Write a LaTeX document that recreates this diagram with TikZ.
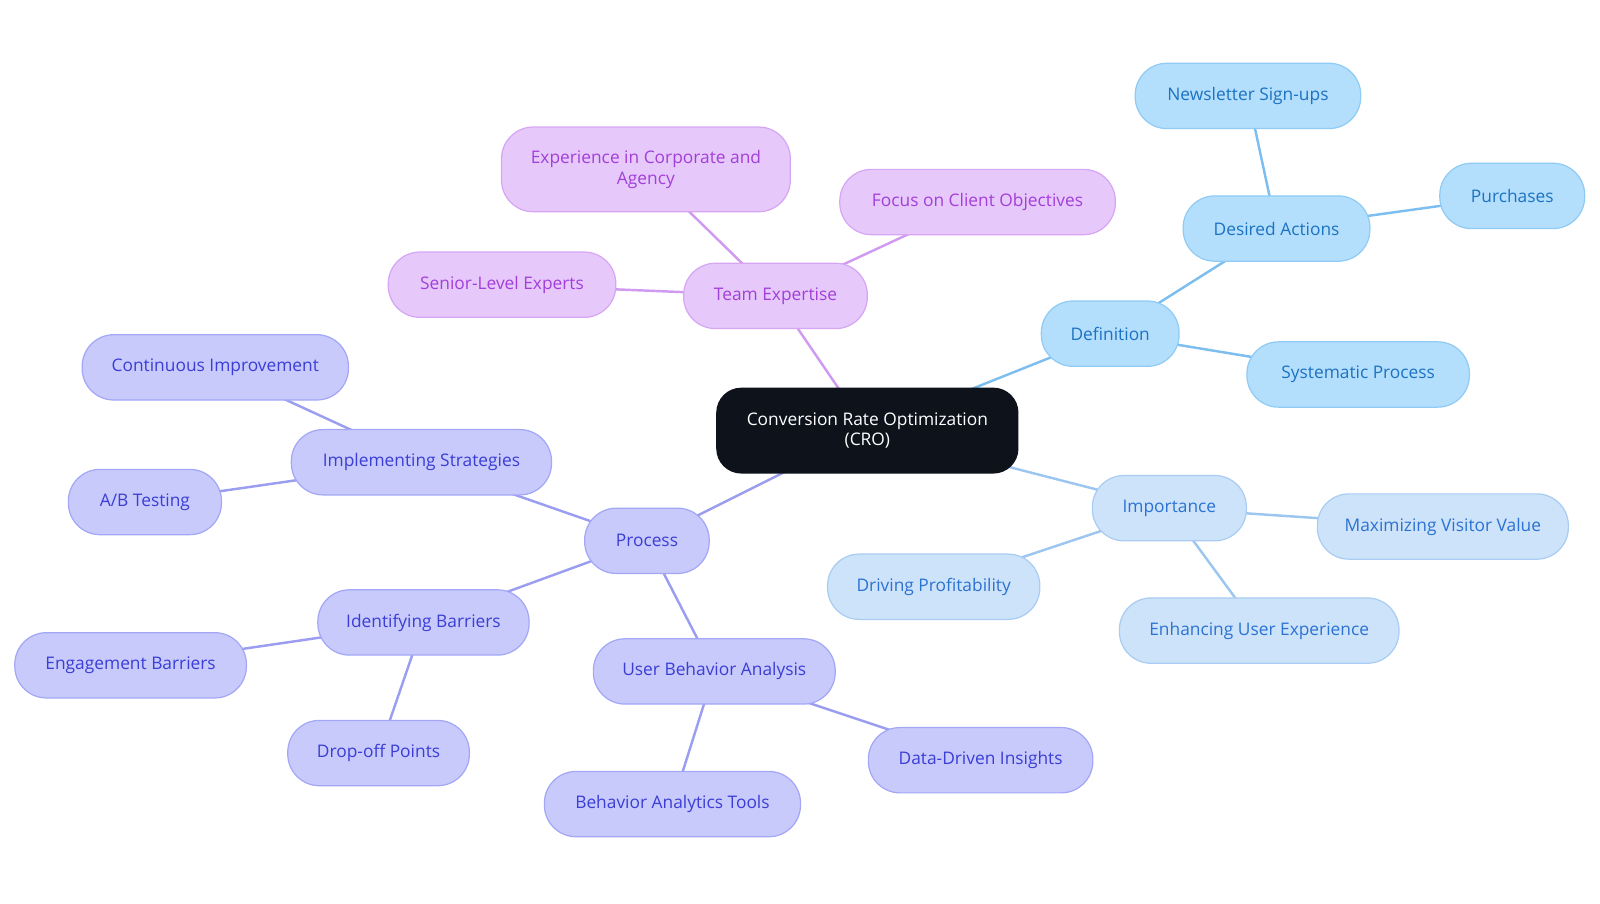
\documentclass[tikz,border=0pt]{standalone}
\usepackage{fontspec}
\setmainfont{Open Sans}
\pgfdeclarelayer{bg}
\pgfsetlayers{bg,main}
\definecolor{cfill}{HTML}{0D121B}
\definecolor{pfill}{HTML}{E6C8FB}
\definecolor{pdraw}{HTML}{D6A6F5}
\definecolor{ptext}{HTML}{A23FD8}
\definecolor{pline}{HTML}{D09AF2}
\definecolor{dfill}{HTML}{B4DFFC}
\definecolor{ddraw}{HTML}{8FCBF5}
\definecolor{dtext}{HTML}{1C72C2}
\definecolor{dline}{HTML}{7DBEF0}
\definecolor{ifill}{HTML}{CDE3FA}
\definecolor{idraw}{HTML}{A9CDF2}
\definecolor{itext}{HTML}{2B72D2}
\definecolor{iline}{HTML}{9CC6F0}
\definecolor{rfill}{HTML}{C8CAFC}
\definecolor{rdraw}{HTML}{A3A7F5}
\definecolor{rtext}{HTML}{3A3ED4}
\definecolor{rline}{HTML}{9B9DF0}
\tikzset{
  pill/.style={rounded corners=31pt, minimum height=64pt, align=center, line width=1.2pt,
    font=\fontsize{17}{20}\selectfont, inner sep=0pt},
  center node/.style={pill, fill=cfill, draw=cfill, text=white, rounded corners=24pt},
  teamnode/.style={pill, fill=pfill, draw=pdraw, text=ptext},
  defnode/.style={pill, fill=dfill, draw=ddraw, text=dtext},
  impnode/.style={pill, fill=ifill, draw=idraw, text=itext},
  procnode/.style={pill, fill=rfill, draw=rdraw, text=rtext},
  link/.style={line width=2.4pt},
}
\begin{document}
\begin{tikzpicture}[x=1pt,y=-1pt]
\useasboundingbox (0,0) rectangle (1568,885);
% center
\node[center node, minimum width=295pt, minimum height=83pt] (cro) at (850,422) {Conversion Rate Optimization\\(CRO)};
% team
\node[teamnode, minimum width=180pt] (team) at (760,290) {Team Expertise};
\node[teamnode, minimum width=283pt, minimum height=83pt] (exp) at (633,166) {Experience in Corporate and\\Agency};
\node[teamnode, minimum width=270pt] (focus) at (958,198) {Focus on Client Objectives};
\node[teamnode, minimum width=223pt] (senior) at (492,279) {Senior-Level Experts};
% definition
\node[defnode, minimum width=135pt] (def) at (1088,327) {Definition};
\node[defnode, minimum width=183pt] (desired) at (1251,224) {Desired Actions};
\node[defnode, minimum width=221pt] (news) at (1223,94) {Newsletter Sign-ups};
\node[defnode, minimum width=142pt] (purch) at (1482,192) {Purchases};
\node[defnode, minimum width=218pt] (sys) at (1331,367) {Systematic Process};
% importance
\node[impnode, minimum width=151pt] (imp) at (1146,498) {Importance};
\node[impnode, minimum width=246pt] (maxv) at (1414,516) {Maximizing Visitor Value};
\node[impnode, minimum width=208pt] (drive) at (915,575) {Driving Profitability};
\node[impnode, minimum width=274pt] (enh) at (1234,618) {Enhancing User Experience};
% process
\node[procnode, minimum width=122pt] (proc) at (634,530) {Process};
\node[procnode, minimum width=255pt] (impl) at (413,453) {Implementing Strategies};
\node[procnode, minimum width=261pt] (cont) at (211,360) {Continuous Improvement};
\node[procnode, minimum width=150pt] (ab) at (142,492) {A/B Testing};
\node[procnode, minimum width=207pt] (ident) at (415,610) {Identifying Barriers};
\node[procnode, minimum width=227pt] (eng) at (128,652) {Engagement Barriers};
\node[procnode, minimum width=178pt] (drop) at (371,738) {Drop-off Points};
\node[procnode, minimum width=237pt] (uba) at (700,658) {User Behavior Analysis};
\node[procnode, minimum width=251pt] (bat) at (659,788) {Behavior Analytics Tools};
\node[procnode, minimum width=220pt] (ddi) at (961,745) {Data-Driven Insights};
\begin{pgfonlayer}{bg}
\draw[link, pline] (cro.center) -- (team.center);
\draw[link, pline] (team.center) -- (exp.center);
\draw[link, pline] (team.center) -- (focus.center);
\draw[link, pline] (team.center) -- (senior.center);
\draw[link, dline] (cro.center) -- (def.center);
\draw[link, dline] (def.center) -- (desired.center);
\draw[link, dline] (desired.center) -- (news.center);
\draw[link, dline] (desired.center) -- (purch.center);
\draw[link, dline] (def.center) -- (sys.center);
\draw[link, iline] (cro.center) -- (imp.center);
\draw[link, iline] (imp.center) -- (maxv.center);
\draw[link, iline] (imp.center) -- (drive.center);
\draw[link, iline] (imp.center) -- (enh.center);
\draw[link, rline] (cro.center) -- (proc.center);
\draw[link, rline] (proc.center) -- (impl.center);
\draw[link, rline] (impl.center) -- (cont.center);
\draw[link, rline] (impl.center) -- (ab.center);
\draw[link, rline] (proc.center) -- (ident.center);
\draw[link, rline] (ident.center) -- (eng.center);
\draw[link, rline] (ident.center) -- (drop.center);
\draw[link, rline] (proc.center) -- (uba.center);
\draw[link, rline] (uba.center) -- (bat.center);
\draw[link, rline] (uba.center) -- (ddi.center);
\end{pgfonlayer}
\end{tikzpicture}
\end{document}
